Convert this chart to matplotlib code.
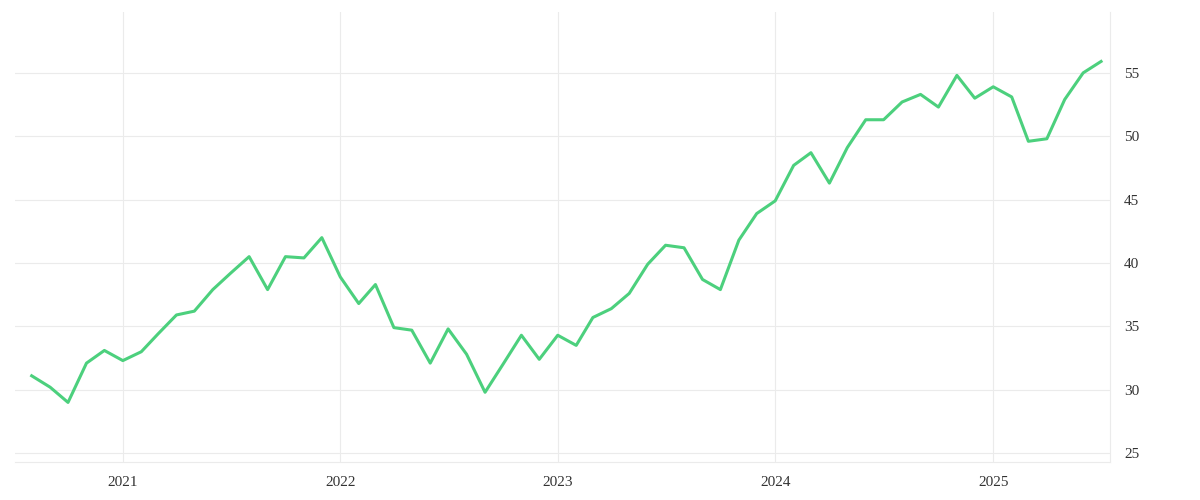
import matplotlib
matplotlib.use("Agg")
import matplotlib.pyplot as plt
import matplotlib.dates as mdates
import pandas as pd

dates = pd.date_range("2020-08-01", periods=60, freq="MS")
values = [31.1, 30.2, 29.0, 32.1, 33.1, 32.3, 33.0, 34.4, 35.9, 36.2,
          37.9, 39.2, 40.5, 37.9, 40.5, 40.4, 42.0, 38.9, 36.8, 38.3,
          34.9, 34.7, 32.1, 34.8, 32.8, 29.8, 32.0, 34.3, 32.4, 34.3,
          33.5, 35.7, 36.4, 37.6, 39.9, 41.4, 41.2, 38.7, 37.9, 41.8,
          43.9, 44.9, 47.7, 48.7, 46.3, 49.1, 51.3, 51.3, 52.7, 53.3,
          52.3, 54.8, 53.0, 53.9, 53.1, 49.6, 49.8, 52.9, 55.0, 55.9]
yticks = [25, 30, 35, 40, 45, 50, 55]

plt.rcParams['font.family'] = ['Liberation Serif', 'DejaVu Serif']
fig = plt.figure(figsize=(12, 5), dpi=100)
ax = fig.add_axes([0.0125, 0.076, 0.9125, 0.90])
ax.plot(dates, values, color="#4cd07d", lw=2.2)
ax.set_xlim(pd.Timestamp("2020-07-04"), pd.Timestamp("2025-07-16"))
ax.set_ylim(24.3, 59.8)
ax.set_yticks(yticks)
ax.yaxis.tick_right()
ax.xaxis.set_major_locator(mdates.YearLocator())
ax.xaxis.set_major_formatter(mdates.DateFormatter("%Y"))
ax.grid(True, color="#ebebeb", lw=0.8)
for s in ["top", "left"]:
    ax.spines[s].set_visible(False)
ax.spines["bottom"].set_color("#ebebeb")
ax.spines["right"].set_color("#ebebeb")
ax.tick_params(length=0, labelsize=11, colors="#333333", pad=10)
fig.savefig("out.png")
